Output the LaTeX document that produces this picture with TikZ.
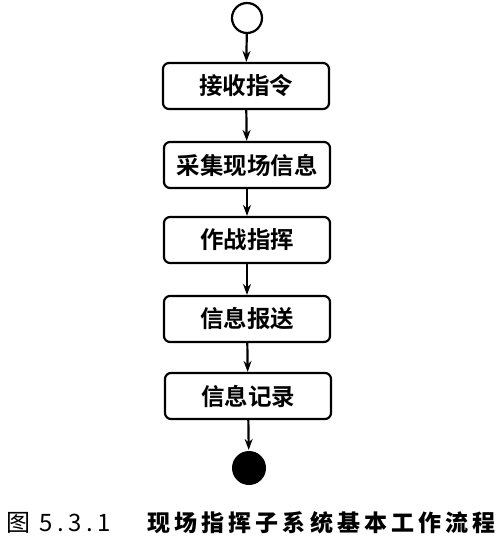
\documentclass[tikz,border=0pt]{standalone}
\usepackage{fontspec}
\newfontfamily\cjk{Noto Sans CJK SC}[BoldFont={Noto Sans CJK SC Bold}]
\newfontfamily\cjkcap{Noto Sans CJK SC}[LetterSpace=18]
\usetikzlibrary{arrows.meta}
\begin{document}
\begin{tikzpicture}[x=1pt,y=-1pt,
    line width=2.2pt,
    stepbox/.style={draw,rounded corners=6pt,minimum width=166pt,minimum height=46pt,
        inner sep=0pt,font=\cjk\bfseries\fontsize{23.5}{26}\selectfont},
    flow/.style={-{Stealth[length=11pt,width=8pt]}}]
    \useasboundingbox (0,0) rectangle (500,548);

    \node[draw,circle,minimum size=30pt,inner sep=0pt] (start) at (247,18) {};
    \node[stepbox] (recv)   at (246,86)  {接收指令};
    \node[stepbox] (gather) at (247,165) {采集现场信息};
    \node[stepbox] (cmd)    at (247,240) {作战指挥};
    \node[stepbox] (report) at (247,319) {信息报送};
    \node[stepbox] (record) at (248,396) {信息记录};
    \node[circle,fill,minimum size=34pt,inner sep=0pt] (stop) at (249,468) {};

    \draw[flow] (start) -- (recv);
    \draw[flow] (recv) -- (gather);
    \draw[flow] (gather) -- (cmd);
    \draw[flow] (cmd) -- (report);
    \draw[flow] (report) -- (record);
    \draw[flow] (record) -- (stop);

    % caption
    \node[anchor=west,inner sep=0pt,font=\cjkcap\fontsize{24}{26}\selectfont] (fignum) at (5,523) {图 5.3.1};
    \node[anchor=east,inner sep=0pt,font=\cjkcap\bfseries\fontsize{23}{26}\selectfont] (title) at (497,523) {现场指挥子系统基本工作流程};
\end{tikzpicture}
\end{document}
